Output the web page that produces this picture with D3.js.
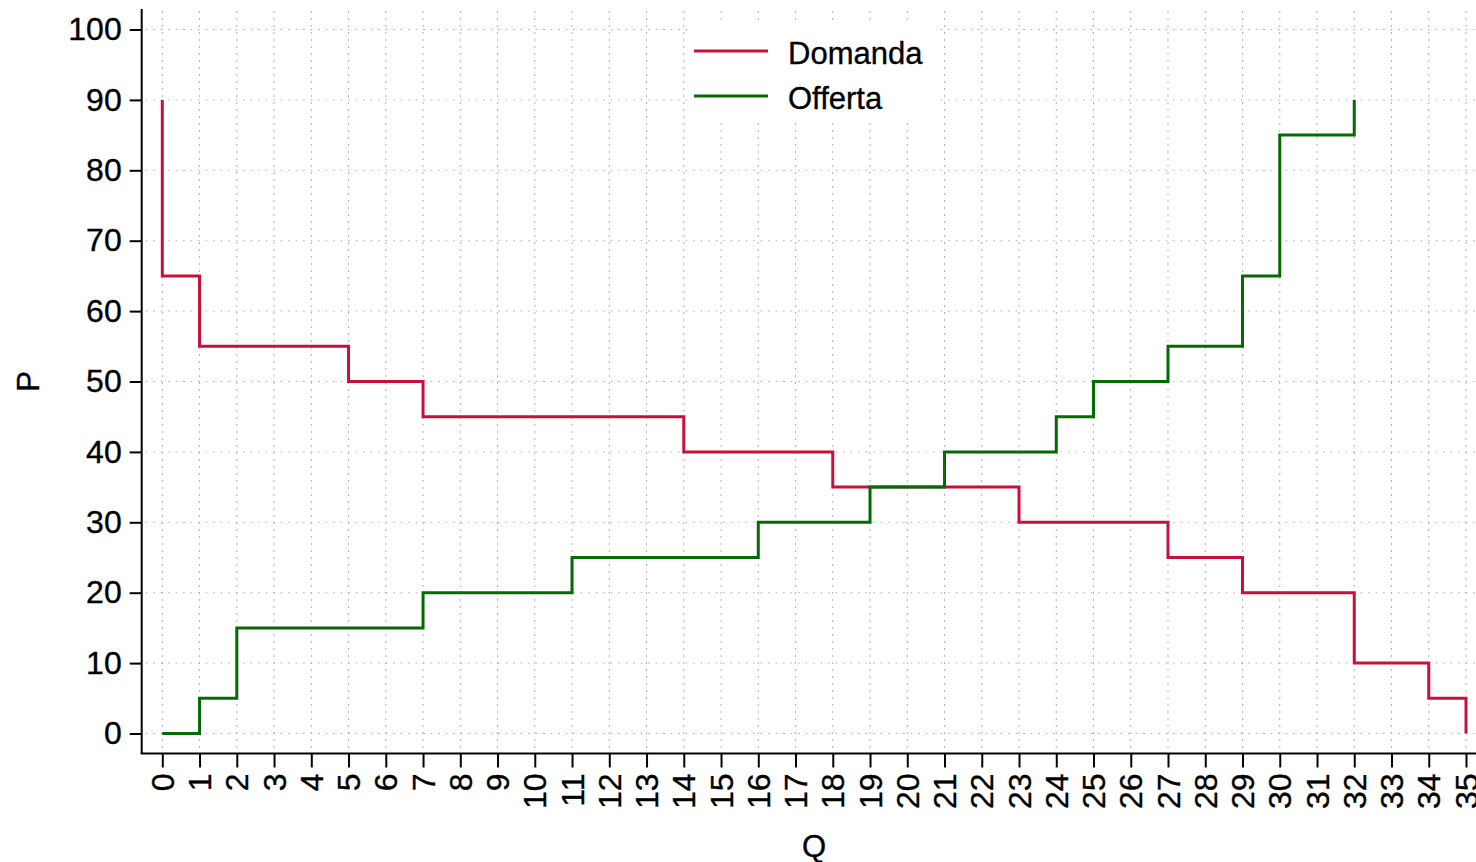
<!DOCTYPE html>
<html>
<head>
<meta charset="utf-8">
<script src="https://cdn.jsdelivr.net/npm/d3@7"></script>
<style>
    body { margin: 0; background: #fff; }
    text { font-family: "Liberation Sans", Arial, Helvetica, sans-serif; fill: #000; stroke: #000; stroke-width: 0.35; }
    .gridV { stroke: #b0b0b0; stroke-width: 1; stroke-dasharray: 2,5; }
    .gridH { stroke: #b0b0b0; stroke-width: 1; stroke-dasharray: 1.5,6; }
</style>
</head>
<body>
<script>
//step vertices of the demand curve (quantity, price)
var demandQ = [0, 0, 1, 5, 7, 14, 18, 23, 27, 29, 32, 34, 35];
var demandP = [90, 65, 55, 50, 45, 40, 35, 30, 25, 20, 10, 5, 0];

//step vertices of the supply curve
var supplyQ = [0, 1, 2, 7, 11, 16, 19, 21, 24, 25, 27, 29, 30, 32];
var supplyP = [0, 5, 15, 20, 25, 30, 35, 40, 45, 50, 55, 65, 85, 90];

//tick values
var xTicks = d3.range(0, 36);
var yTicks = [0, 10, 20, 30, 40, 50, 60, 70, 80, 90, 100];

var seriesNames = ["Domanda", "Offerta"];
var seriesColors = ["#c8103c", "#046a04"];

window.onload = function(){
    var width = 1476,
        height = 862;

    var svg = d3.select("body")
        .append("svg")
        .attr("width", width)
        .attr("height", height);

    var x = d3.scaleLinear().domain([0, 35]).range([162.3, 1466]);
    var y = d3.scaleLinear().domain([0, 100]).range([733.5, 29.5]);

    var axisX = 141.7,
        axisY = 753.5;

    //grid lines
    svg.selectAll(".gridV")
        .data(xTicks)
        .enter()
        .append("line")
        .attr("class", "gridV")
        .attr("x1", function(d){ return x(d); })
        .attr("x2", function(d){ return x(d); })
        .attr("y1", 11)
        .attr("y2", axisY - 2);

    svg.selectAll(".gridH")
        .data(yTicks)
        .enter()
        .append("line")
        .attr("class", "gridH")
        .attr("x1", axisX + 4)
        .attr("x2", width)
        .attr("y1", function(d){ return y(d); })
        .attr("y2", function(d){ return y(d); });

    //axes
    var yAxis = d3.axisLeft(y)
        .tickValues(yTicks)
        .tickSize(12)
        .tickPadding(8);

    var gy = svg.append("g")
        .attr("transform", "translate(" + axisX + ",0)")
        .call(yAxis);
    gy.select(".domain").remove();
    gy.append("line")
        .attr("x1", 0).attr("x2", 0)
        .attr("y1", 9).attr("y2", axisY)
        .attr("stroke", "#000").attr("stroke-width", 2);
    gy.selectAll(".tick line").attr("stroke", "#000").attr("stroke-width", 2);
    gy.selectAll(".tick text")
        .style("font-size", "32px")
        .style("font-family", '"Liberation Sans", Arial, sans-serif')
        .attr("fill", "#000");

    var xAxis = d3.axisBottom(x)
        .tickValues(xTicks)
        .tickSize(14);

    var gx = svg.append("g")
        .attr("transform", "translate(0," + axisY + ")")
        .call(xAxis);
    gx.select(".domain").remove();
    gx.append("line")
        .attr("x1", axisX - 1).attr("x2", width)
        .attr("y1", 0).attr("y2", 0)
        .attr("stroke", "#000").attr("stroke-width", 2);
    gx.selectAll(".tick line").attr("stroke", "#000").attr("stroke-width", 2);
    gx.selectAll(".tick text")
        .attr("y", 0)
        .attr("dy", null)
        .attr("transform", "translate(0,20) rotate(-90)")
        .attr("text-anchor", "end")
        .attr("dominant-baseline", "central")
        .style("font-size", "32px")
        .style("font-family", '"Liberation Sans", Arial, sans-serif')
        .attr("fill", "#000");

    //axis titles
    svg.append("text")
        .attr("x", (x(0) + x(35)) / 2)
        .attr("y", 857)
        .attr("text-anchor", "middle")
        .style("font-size", "31px")
        .text("Q");

    svg.append("text")
        .attr("transform", "translate(39," + (y(0) + y(100)) / 2 + ") rotate(-90)")
        .attr("text-anchor", "middle")
        .style("font-size", "31px")
        .text("P");

    //step curves
    var line = d3.line()
        .x(function(d){ return x(d[0]); })
        .y(function(d){ return y(d[1]); })
        .curve(d3.curveStepAfter);

    var series = [d3.zip(demandQ, demandP), d3.zip(supplyQ, supplyP)];

    svg.selectAll(".curve")
        .data(series)
        .enter()
        .append("path")
        .attr("class", "curve")
        .attr("d", line)
        .attr("fill", "none")
        .attr("stroke", function(d, i){ return seriesColors[i]; })
        .attr("stroke-width", 3);

    //legend
    var legend = svg.append("g");
    legend.append("rect")
        .attr("x", 688)
        .attr("y", 20)
        .attr("width", 252)
        .attr("height", 100)
        .attr("fill", "#fff");

    var items = legend.selectAll(".item")
        .data(seriesNames)
        .enter()
        .append("g")
        .attr("transform", function(d, i){ return "translate(0," + (51 + i * 45) + ")"; });

    items.append("line")
        .attr("x1", 694)
        .attr("x2", 768)
        .attr("stroke", function(d, i){ return seriesColors[i]; })
        .attr("stroke-width", 3);

    items.append("text")
        .attr("x", 788)
        .attr("y", 2)
        .attr("dominant-baseline", "central")
        .style("font-size", "31px")
        .text(function(d){ return d; });
};
</script>
</body>
</html>
